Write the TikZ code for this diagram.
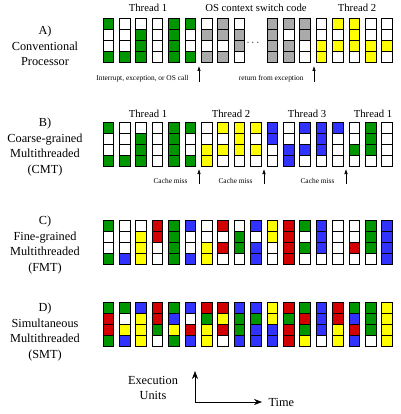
\documentclass[tikz,border=0pt]{standalone}
\usepackage{fontspec}
\setmainfont{Liberation Serif}
\usetikzlibrary{arrows.meta}

\definecolor{G}{RGB}{0,150,0}
\definecolor{R}{RGB}{210,0,0}
\definecolor{B}{RGB}{50,50,255}
\definecolor{Y}{RGB}{255,255,0}
\definecolor{S}{RGB}{170,170,170}
\definecolor{W}{RGB}{255,255,255}

% one column of four issue slots: x, top y, four fills
\newcommand{\issuecol}[6]{%
 \draw[cellbox,fill=#3] (#1,#2) rectangle ++(10.5,11);
 \draw[cellbox,fill=#4] (#1,#2+11) rectangle ++(10.5,11);
 \draw[cellbox,fill=#5] (#1,#2+22) rectangle ++(10.5,11);
 \draw[cellbox,fill=#6] (#1,#2+33) rectangle ++(10.5,11);}

\begin{document}
\begin{tikzpicture}[x=1pt,y=-1pt,
  cellbox/.style={draw=black,line width=0.7pt},
  rowlabel/.style={align=center,font=\fontsize{12.3}{15.5}\selectfont},
  threadlabel/.style={font=\fontsize{10.7}{12}\selectfont},
  eventlabel/.style={anchor=base east,font=\fontsize{7.4}{9}\selectfont},
  event/.style={-{Latex[length=5pt,width=3.5pt]},line width=0.6pt},
  axis/.style={-{Stealth[length=8pt,width=6pt]},line width=0.6pt}]
 \useasboundingbox (0,0) rectangle (400,414);

 % A) conventional processor
 \node[rowlabel] (labA) at (45,46) {A)\\Conventional\\Processor};
 \node[threadlabel] (thrA1) at (148,8) {Thread 1};
 \node[threadlabel] (osA) at (256,8) {OS context switch code};
 \node[threadlabel] (thrA2) at (357,8) {Thread 2};
 \foreach \i/\ca/\cb/\cc/\cd in {0/G/W/W/G,1/W/W/W/G,2/W/G/G/G,3/W/W/W/W,4/G/G/G/G,5/G/W/W/G,
   6/W/S/W/S,7/S/S/W/S,8/W/S/S/W,10/S/S/S/S,11/S/W/S/S,12/S/S/W/W,
   13/W/W/Y/Y,14/Y/W/Y/W,15/Y/Y/Y/W,16/W/W/Y/Y,17/W/W/Y/W}
  \issuecol{103+16.4*\i}{18}{\ca}{\cb}{\cc}{\cd};
 \node[font=\fontsize{11}{12}\selectfont] (dotsA) at (253,43) {$\cdots$};
 \coordinate (trapA) at (199,82); \coordinate (trapAtip) at (199,66);
 \coordinate (retA) at (314,82); \coordinate (retAtip) at (314,66);
 \draw[event] (trapA) -- (trapAtip);
 \draw[event] (retA) -- (retAtip);
 \node[eventlabel] (trapAtext) at (192,81) {Interrupt, exception, or OS call};
 \node[eventlabel] (retAtext) at (307,81) {return from exception};

 % B) coarse-grained
 \node[rowlabel] (labB) at (45,147) {B)\\Coarse-grained\\Multithreaded\\(CMT)};
 \node[threadlabel] (thrB1) at (148,114) {Thread 1};
 \node[threadlabel] (thrB2) at (231,114) {Thread 2};
 \node[threadlabel] (thrB3) at (307,114) {Thread 3};
 \node[threadlabel] (thrB4) at (373,114) {Thread 1};
 \foreach \i/\ca/\cb/\cc/\cd in {0/G/W/W/G,1/W/W/W/G,2/W/G/G/G,3/W/W/W/W,4/G/G/G/G,5/G/W/W/G,
   6/W/W/Y/Y,7/Y/W/Y/W,8/Y/Y/Y/W,9/Y/W/Y/W,10/B/B/W/W,11/W/W/B/B,
   12/B/W/B/W,13/B/B/B/W,14/B/W/W/W,15/W/W/G/W,16/G/G/G/W,17/W/W/W/W}
  \issuecol{103+16.4*\i}{122}{\ca}{\cb}{\cc}{\cd};
 \coordinate (missB1) at (199,184); \coordinate (missB1tip) at (199,169);
 \coordinate (missB2) at (264,184); \coordinate (missB2tip) at (264,169);
 \coordinate (missB3) at (346,184); \coordinate (missB3tip) at (346,169);
 \draw[event] (missB1) -- (missB1tip);
 \draw[event] (missB2) -- (missB2tip);
 \draw[event] (missB3) -- (missB3tip);
 \node[eventlabel] (missB1text) at (191,183) {Cache miss};
 \node[eventlabel] (missB2text) at (256,183) {Cache miss};
 \node[eventlabel] (missB3text) at (338,183) {Cache miss};

 % C) fine-grained
 \node[rowlabel] (labC) at (45,245) {C)\\Fine-grained\\Multithreaded\\(FMT)};
 \foreach \i/\ca/\cb/\cc/\cd in {0/G/W/W/G,1/W/W/W/B,2/W/Y/Y/Y,3/R/R/W/W,4/G/G/G/G,5/B/W/W/B,
   6/W/W/Y/Y,7/R/W/R/W,8/W/G/G/W,9/B/W/B/B,10/Y/Y/W/W,11/R/R/R/R,
   12/G/W/G/W,13/B/B/B/W,14/W/W/W/W,15/W/W/R/W,16/G/G/G/W,17/B/B/B/B}
  \issuecol{103+16.4*\i}{220}{\ca}{\cb}{\cc}{\cd};

 % D) simultaneous
 \node[rowlabel] (labD) at (45,332) {D)\\Simultaneous\\Multithreaded\\(SMT)};
 \foreach \i/\ca/\cb/\cc/\cd in {0/G/R/R/G,1/G/W/Y/B,2/B/Y/Y/Y,3/R/R/G/W,4/G/B/Y/G,5/B/W/R/B,
   6/R/G/Y/Y,7/R/Y/R/W,8/B/G/G/B,9/B/G/B/B,10/Y/Y/B/B,11/R/G/R/R,
   12/G/R/G/Y,13/B/B/B/W,14/R/R/Y/Y,15/G/B/R/B,16/G/G/G/W,17/Y/Y/Y/Y}
  \issuecol{103+16.4*\i}{302}{\ca}{\cb}{\cc}{\cd};

 % axes
 \coordinate (origin) at (195,402);
 \coordinate (unitsTip) at (195,371);
 \coordinate (timeTip) at (262,402);
 \draw[axis] (origin) -- (unitsTip);
 \draw[axis] (origin) -- (timeTip);
 \node[rowlabel] (units) at (153,388) {Execution\\Units};
 \node[rowlabel,anchor=west] (time) at (265,402) {Time};
\end{tikzpicture}
\end{document}
